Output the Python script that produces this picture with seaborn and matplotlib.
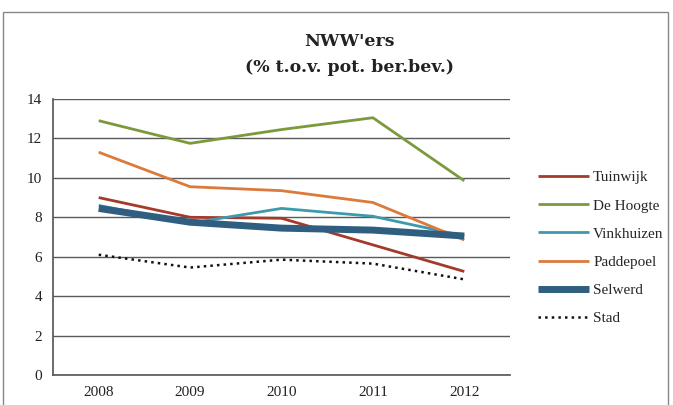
import matplotlib
matplotlib.use("Agg")
import matplotlib.pyplot as plt
import seaborn as sns
import pandas as pd
from matplotlib.patches import Rectangle

years = ["2008", "2009", "2010", "2011", "2012"]
tuinwijk = [9.0, 8.0, 7.95, 6.6, 5.25]
de_hoogte = [12.9, 11.75, 12.45, 13.05, 9.85]
vinkhuizen = [8.6, 7.7, 8.45, 8.05, 7.05]
paddepoel = [11.3, 9.55, 9.35, 8.75, 6.85]
selwerd = [8.45, 7.75, 7.45, 7.35, 7.05]
stad = [6.1, 5.45, 5.85, 5.65, 4.85]
series_names = ["Tuinwijk", "De Hoogte", "Vinkhuizen", "Paddepoel", "Selwerd", "Stad"]
series_vals = [tuinwijk, de_hoogte, vinkhuizen, paddepoel, selwerd, stad]

colors = ["#a33a2a", "#7b9a3c", "#3d9aac", "#dc7a3c", "#2f5e80", "#111111"]
widths = [2.0, 2.0, 2.0, 2.0, 5.0, 1.8]
styles = ["-", "-", "-", "-", "-", ":"]

sns.set_theme(style="white")
plt.rcParams["font.family"] = ["Liberation Serif", "DejaVu Serif"]

fig = plt.figure(figsize=(6.73, 4.05), dpi=100)
ax = fig.add_axes([53/673, 1 - 375/405, (510-53)/673, (375-99)/405])

rows = []
for name, vals in zip(series_names, series_vals):
    for i, (y, v) in enumerate(zip(years, vals)):
        rows.append({"idx": i, "year": y, "value": v, "series": name})
df = pd.DataFrame(rows)

for name, c, w, ls in zip(series_names, colors, widths, styles):
    sub = df[df["series"] == name]
    sns.lineplot(data=sub, x="idx", y="value", ax=ax, color=c, linewidth=w,
                 linestyle=ls, label=name, solid_capstyle="butt")

ax.set_xlim(-0.5, 4.5)
ax.set_ylim(0, 14)
ax.set_yticks(range(0, 15, 2))
ax.set_xticks(range(len(years)))
ax.set_xticklabels(years)
ax.set_xlabel("")
ax.set_ylabel("")
ax.yaxis.grid(True, color="#5a5a5a", linewidth=1.0)
ax.set_axisbelow(True)
for s in ["top", "right"]:
    ax.spines[s].set_visible(False)
ax.spines["left"].set_color("#5a5a5a")
ax.spines["bottom"].set_color("#5a5a5a")
ax.tick_params(axis="both", labelsize=11, colors="#222222", length=0, pad=8)

leg = ax.legend(loc="center left", bbox_to_anchor=((532-53)/457, 0.46), frameon=False,
                fontsize=11, handlelength=3.3, handletextpad=0.3,
                labelspacing=0.95, borderaxespad=0)

fig.text(349/673, 1 - 42/405, "NWW'ers", ha="center", va="center",
         fontsize=12.5, fontweight="bold", family="DejaVu Serif", color="#222222")
fig.text(349/673, 1 - 68/405, "(% t.o.v. pot. ber.bev.)", ha="center", va="center",
         fontsize=12.5, fontweight="bold", family="DejaVu Serif", color="#222222")

fig.patches.append(Rectangle((3/673, -0.02), 665/673, 1 - 12/405 + 0.02,
                             transform=fig.transFigure, fill=False,
                             edgecolor="#888888", linewidth=1.0))

fig.savefig("out.png", dpi=100)
